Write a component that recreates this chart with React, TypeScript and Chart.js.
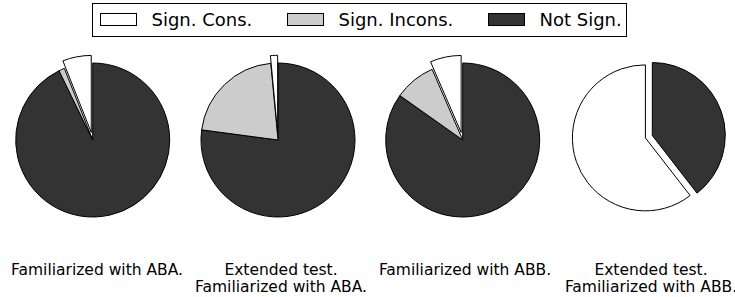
import React, { useEffect, useRef } from 'react';
import { Chart, registerables } from 'chart.js';

Chart.register(...registerables);

// ---- data ----
const seriesNames = ['Sign. Cons.', 'Sign. Incons.', 'Not Sign.'];
const pieTitles = [
  ['Familiarized with ABA.'],
  ['Extended test.', 'Familiarized with ABA.'],
  ['Familiarized with ABB.'],
  ['Extended test.', 'Familiarized with ABB.'],
];
const signCons = [6.0, 1.5, 6.5, 60.5];
const signIncons = [1.2, 21.4, 8.7, 0];
const notSign = [92.8, 77.1, 84.8, 39.5];
// explode fraction per series (Sign. Cons., Sign. Incons., Not Sign.)
const explodeFractions = [0.1, 0, 0];

// ---- styles / layout ----
const seriesColors = ['#ffffff', '#cccccc', '#333333'];
const pieLayout = [
  { cx: 92.7, cy: 140, r: 77, labelX: 97 },
  { cx: 278, cy: 140, r: 77, labelX: 281 },
  { cx: 462.7, cy: 140, r: 77, labelX: 465 },
  { cx: 652.3, cy: 135.5, r: 73, labelX: 651 },
];
const CANVAS = 190;
const FONT = '"DejaVu Sans", Verdana, sans-serif';

const explodePlugin = {
  id: 'explodeSlices',
  afterDatasetUpdate(chart: any, args: any) {
    const fr: number[] = chart.options.plugins.explodeSlices?.fractions || [];
    args.meta.data.forEach((arc: any, i: number) => {
      const f = fr[i] || 0;
      if (!f) return;
      const mid = (arc.startAngle + arc.endAngle) / 2;
      const d = f * arc.outerRadius;
      arc.x += Math.cos(mid) * d;
      arc.y += Math.sin(mid) * d;
    });
  },
};

function Pie({ index }: { index: number }) {
  const ref = useRef<HTMLCanvasElement | null>(null);
  const lay = pieLayout[index];
  const left = Math.floor(lay.cx) - CANVAS / 2;
  const top = Math.floor(lay.cy) - CANVAS / 2;
  useEffect(() => {
    if (!ref.current) return;
    // Chart.js draws clockwise from the top; the reference runs counter-clockwise,
    // so the series are fed in reverse order.
    const order = [2, 1, 0];
    const values = [signCons[index], signIncons[index], notSign[index]];
    const chart = new Chart(ref.current, {
      type: 'pie',
      data: {
        labels: order.map((k) => seriesNames[k]),
        datasets: [
          {
            data: order.map((k) => values[k]),
            backgroundColor: order.map((k) => seriesColors[k]),
            borderColor: '#000000',
            borderWidth: 1,
            borderJoinStyle: 'miter',
            radius: lay.r,
          } as any,
        ],
      },
      options: {
        responsive: false,
        maintainAspectRatio: false,
        animation: false,
        events: [],
        layout: {
          padding: {
            left: 2 * (lay.cx - Math.floor(lay.cx)),
            top: 2 * (lay.cy - Math.floor(lay.cy)),
            right: 0,
            bottom: 0,
          },
        },
        plugins: {
          legend: { display: false },
          tooltip: { enabled: false },
          explodeSlices: { fractions: order.map((k) => explodeFractions[k]) },
        } as any,
      },
      plugins: [explodePlugin],
    });
    return () => chart.destroy();
  }, [index]);
  return (
    <canvas
      ref={ref}
      width={CANVAS}
      height={CANVAS}
      style={{ position: 'absolute', left, top, width: CANVAS, height: CANVAS }}
    />
  );
}

const legendPatches = [100, 287, 488];
const legendTexts = [151.5, 338.5, 539.5];

export default function App() {
  return (
    <div
      style={{
        position: 'absolute',
        left: 0,
        top: 0,
        width: 735,
        height: 297,
        background: '#ffffff',
        fontFamily: FONT,
        color: '#000',
        overflow: 'hidden',
      }}
    >
      {pieLayout.map((_, i) => (
        <Pie key={i} index={i} />
      ))}
      <div
        style={{
          position: 'absolute',
          left: 92,
          top: 3,
          width: 535,
          height: 34,
          border: '1px solid #000',
          boxSizing: 'border-box',
          background: '#fff',
        }}
      />
      {seriesNames.map((name, k) => (
        <React.Fragment key={name}>
          <div
            style={{
              position: 'absolute',
              left: legendPatches[k],
              top: 13,
              width: 37,
              height: 13,
              boxSizing: 'border-box',
              border: '1px solid #000',
              background: seriesColors[k],
            }}
          />
          <div
            style={{
              position: 'absolute',
              left: legendTexts[k],
              top: 11,
              fontSize: 18,
              lineHeight: '18px',
              whiteSpace: 'nowrap',
            }}
          >
            {name}
          </div>
        </React.Fragment>
      ))}
      {pieTitles.map((lines, i) => (
        <div
          key={i}
          style={{
            position: 'absolute',
            left: pieLayout[i].labelX - 150,
            top: 261.6,
            width: 300,
            textAlign: 'center',
            fontSize: 15.5,
            lineHeight: '17px',
            whiteSpace: 'nowrap',
          }}
        >
          {lines.map((ln, j) => (
            <div key={j}>{ln}</div>
          ))}
        </div>
      ))}
    </div>
  );
}
